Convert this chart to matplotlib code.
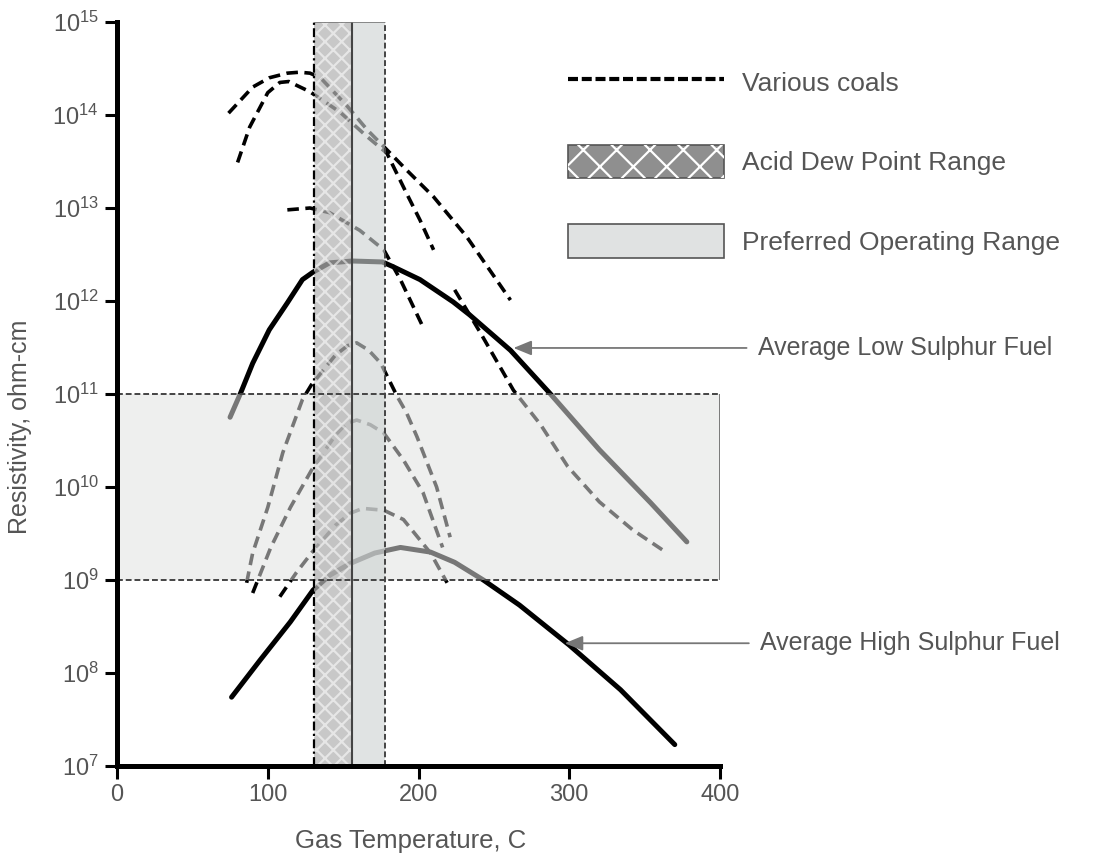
import numpy as np
import matplotlib.pyplot as plt
from matplotlib.patches import Patch
from matplotlib.lines import Line2D
from matplotlib.legend_handler import HandlerTuple

plt.rcParams['font.family'] = ['Liberation Sans', 'DejaVu Sans']
plt.rcParams['hatch.linewidth'] = 1.6

TEXT = '#555555'

# Average fuels: gas temperature (C) and log10 resistivity (ohm-cm)
low_t = [75, 82, 90, 101, 113, 123, 130, 141, 156, 176, 183, 201, 223, 234,
         261, 287, 320, 354, 378]
low_r = [10.75, 11.01, 11.33, 11.69, 11.98, 12.23, 12.31, 12.41, 12.43, 12.42,
         12.37, 12.23, 11.99, 11.85, 11.47, 11.01, 10.40, 9.83, 9.41]

high_t = [76, 95, 115, 130, 141, 155, 171, 188, 208, 224, 243, 267, 300, 334, 370]
high_r = [7.74, 8.14, 8.55, 8.89, 9.05, 9.18, 9.29, 9.35, 9.30, 9.19, 9.00,
          8.73, 8.30, 7.82, 7.23]

# Various coals (dashed)
coal_a_t = [74, 90, 101, 113, 121, 128, 135, 153, 166, 177, 192, 210, 232, 261]
coal_a_r = [14.02, 14.30, 14.40, 14.45, 14.46, 14.45, 14.40, 14.09, 13.84, 13.66,
            13.41, 13.12, 12.69, 12.01]

coal_b_t = [80, 88, 100, 108, 114, 119, 128, 148, 165, 179, 192, 201, 210]
coal_b_r = [13.49, 13.87, 14.24, 14.35, 14.36, 14.32, 14.25, 14.03, 13.78, 13.59,
            13.16, 12.87, 12.55]

coal_d_t = [113, 128, 141, 161, 177, 188, 203]
coal_d_r = [12.98, 13.00, 12.95, 12.76, 12.55, 12.23, 11.72]

coal_e_t = [224, 241, 263, 281, 299, 320, 342, 364]
coal_e_r = [12.12, 11.66, 11.04, 10.67, 10.22, 9.84, 9.54, 9.30]

coal_f_t = [86, 90, 100, 110, 123, 129, 145, 153, 159, 167, 175, 186, 192, 199,
            212, 221]
coal_f_r = [8.97, 9.29, 9.78, 10.37, 10.94, 11.10, 11.42, 11.52, 11.55, 11.47,
            11.33, 10.97, 10.80, 10.54, 10.00, 9.46]

coal_g_t = [90, 102, 115, 129, 145, 152, 159, 168, 177, 190, 203, 216]
coal_g_r = [8.86, 9.35, 9.78, 10.18, 10.56, 10.68, 10.72, 10.67, 10.58, 10.29,
            9.94, 9.35]

coal_h_t = [108, 119, 129, 145, 155, 163, 177, 190, 208, 219]
coal_h_r = [8.82, 9.08, 9.29, 9.59, 9.72, 9.77, 9.75, 9.65, 9.29, 8.97]

coals = [(coal_a_t, coal_a_r), (coal_b_t, coal_b_r), (coal_d_t, coal_d_r),
         (coal_e_t, coal_e_r), (coal_f_t, coal_f_r), (coal_g_t, coal_g_r),
         (coal_h_t, coal_h_r)]

# Ranges
acid_dew = (131, 156)
preferred_t = (156, 178)
preferred_r = (1e9, 1e11)

y_ticks = [7, 8, 9, 10, 11, 12, 13, 14, 15]
x_ticks = [0, 100, 200, 300, 400]

fig = plt.figure(figsize=(10.97, 8.59), dpi=100)
ax = fig.add_axes([117 / 1097, 93 / 859, 603 / 1097, 744 / 859])
ax.set_yscale('log')
ax.set_xlim(0, 400)
ax.set_ylim(1e7, 1e15)

# preferred resistivity rectangle (base)
rect_col = '#eeefee'
ax.fill_between([0, 400], preferred_r[0], preferred_r[1], color=rect_col,
                lw=0, zorder=1)

# curves
ax.plot(low_t, 10 ** np.array(low_r), color='black', lw=3.6, zorder=3,
        solid_capstyle='round', solid_joinstyle='round')
ax.plot(high_t, 10 ** np.array(high_r), color='black', lw=3.6, zorder=3,
        solid_capstyle='round', solid_joinstyle='round')
for t, r in coals:
    ax.plot(t, 10 ** np.array(r), color='black', lw=2.6, dashes=(3.2, 1.8),
            zorder=3)

# overlay so curves look grey inside the rectangle
ax.fill_between([0, 400], preferred_r[0], preferred_r[1], color=rect_col,
                alpha=0.5, lw=0, zorder=4)
ax.hlines(list(preferred_r), 0, 400, colors='#444444', lw=1.4,
          linestyles=(0, (3, 1.5)), zorder=6)
ax.vlines(400, preferred_r[0], preferred_r[1], colors='#666666', lw=1.2, zorder=6)

# vertical bands
ax.axvspan(*acid_dew, color='#b3b3b3', alpha=0.72, lw=0, zorder=5)
ax.axvspan(*acid_dew, facecolor='none', edgecolor='white', alpha=0.55,
           hatch='xx', lw=0, zorder=5.5)
ax.axvspan(*preferred_t, color='#cdd2d2', alpha=0.62, lw=0, zorder=5)
ax.axvline(acid_dew[0], color='black', lw=1.6, ls=(0, (4, 1.5, 1, 1.5)), zorder=6)
ax.axvline(acid_dew[1], color='#444444', lw=1.5, zorder=6)
ax.axvline(preferred_t[1], color='#444444', lw=1.4, ls=(0, (3, 1.5)), zorder=6)
ax.hlines(1e15, acid_dew[0], preferred_t[1], colors='#777777', lw=1.2, zorder=6)

# axes styling
for s in ['top', 'right']:
    ax.spines[s].set_visible(False)
for s in ['left', 'bottom']:
    ax.spines[s].set_linewidth(3.6)
    ax.spines[s].set_zorder(7)
ax.yaxis.set_minor_locator(plt.NullLocator())
ax.set_yticks([10.0 ** v for v in y_ticks])
ax.set_yticklabels([r'$\mathregular{10^{%d}}$' % v for v in y_ticks])
ax.set_xticks(x_ticks)
ax.set_xticklabels([str(v) for v in x_ticks])
ax.tick_params(axis='both', direction='out', width=2.2, length=9,
               labelcolor=TEXT, labelsize=17)
ax.tick_params(axis='x', pad=4)
ax.tick_params(axis='y', pad=4)

ax.set_xlabel('Gas Temperature, C', fontsize=18.5, color=TEXT)
ax.xaxis.set_label_coords(0.4876, -0.085)
ax.set_ylabel('Resistivity, ohm-cm', fontsize=18, color=TEXT)
ax.yaxis.set_label_coords(-0.141, 0.456)

# annotations
arrow = dict(arrowstyle='-|>,head_length=1.1,head_width=0.45', color='#777777',
             lw=1.3, shrinkA=6, shrinkB=0, mutation_scale=10)
ax.annotate('Average Low Sulphur Fuel', xy=(263, 10 ** 11.495),
            xytext=(425, 10 ** 11.495), ha='left', va='center', fontsize=18,
            color=TEXT, annotation_clip=False, arrowprops=arrow, zorder=8)
ax.annotate('Average High Sulphur Fuel', xy=(297, 10 ** 8.32),
            xytext=(426.5, 10 ** 8.32), ha='left', va='center', fontsize=18,
            color=TEXT, annotation_clip=False, arrowprops=arrow, zorder=8)

# legend
handles = [
    Line2D([], [], color='black', lw=3, dashes=(2.4, 0.9)),
    (Patch(facecolor='#8f8f8f', edgecolor='#555555', lw=1.2),
     Patch(facecolor='none', edgecolor='white', lw=0, hatch='x')),
    Patch(facecolor='#e0e2e2', edgecolor='#555555', lw=1.2),
]
labels = ['Various coals', 'Acid Dew Point Range', 'Preferred Operating Range']
ax.legend(handles, labels, loc='upper left',
          bbox_to_anchor=(568 / 1097, 1 - 66 / 859), bbox_transform=fig.transFigure,
          frameon=False, fontsize=19, labelcolor=TEXT, handlelength=5.9,
          handleheight=1.55, labelspacing=1.75, handletextpad=0.7,
          borderpad=0, borderaxespad=0,
          handler_map={tuple: HandlerTuple(ndivide=1)})

fig.savefig('out.png', dpi=100)
